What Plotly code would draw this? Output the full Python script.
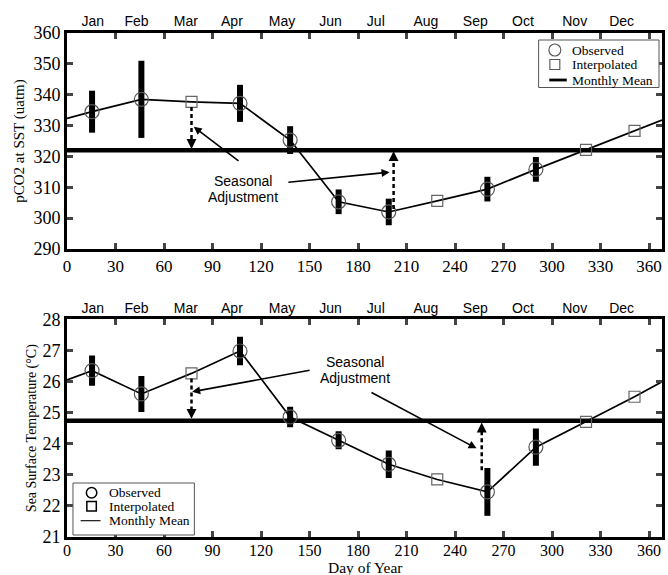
import plotly.graph_objects as go
from plotly.subplots import make_subplots

# ---------------- data ----------------
months = ["Jan", "Feb", "Mar", "Apr", "May", "Jun", "Jul", "Aug", "Sep", "Oct", "Nov", "Dec"]
month_pos = [16, 43, 73.5, 102, 133, 163, 191, 222, 252.5, 282, 314, 343]

obs_days = [15.5, 46, 107, 138, 168, 199, 260, 290]
interp_days = [77, 229, 321, 351]

pco2_obs = [334.5, 338.5, 337.2, 325.3, 305.3, 302.0, 309.4, 315.8]
pco2_err = [6.8, 12.5, 6.0, 4.5, 4.0, 4.3, 4.0, 4.0]
pco2_interp = [337.7, 305.6, 322.1, 328.3]
pco2_start = 332.3
pco2_end = 331.8
pco2_mean = 322.0

sst_obs = [26.35, 25.6, 26.98, 24.86, 24.11, 23.34, 22.45, 23.89]
sst_err = [0.49, 0.58, 0.46, 0.33, 0.29, 0.44, 0.77, 0.6]
sst_interp = [26.26, 22.85, 24.7, 25.51]
sst_start = 26.05
sst_end = 25.99
sst_mean = 24.74

legend_labels = ["Observed", "Interpolated", "Monthly Mean"]

x_end = 368

SERIF = "Liberation Serif, Times New Roman, serif"
SANS = "Liberation Sans, Arial, sans-serif"

# figure geometry (pixels)
W, H = 668, 575
ML, MR, MT, MB = 67, 3, 33, 38
PW, PH = W - ML - MR, H - MT - MB


def PX(x):
    return (x - ML) / PW


def PY(y):
    return (H - MB - y) / PH


def series_line(start, obs, interp, end):
    pts = [(0, start)] + list(zip(obs_days, obs)) + list(zip(interp_days, interp)) + [(x_end, end)]
    pts.sort()
    return [p[0] for p in pts], [p[1] for p in pts]


fig = make_subplots(rows=2, cols=1, vertical_spacing=0.139)

panels = [
    (1, pco2_start, pco2_obs, pco2_err, pco2_interp, pco2_end, pco2_mean),
    (2, sst_start, sst_obs, sst_err, sst_interp, sst_end, sst_mean),
]
for row, s0, obs, err, interp, s1, mean in panels:
    lx, ly = series_line(s0, obs, interp, s1)
    fig.add_trace(go.Scatter(x=lx, y=ly, mode="lines", line=dict(color="black", width=1.7),
                             showlegend=False, hoverinfo="skip"), row=row, col=1)
    fig.add_trace(go.Scatter(x=[0, x_end], y=[mean, mean], mode="lines", name="Monthly Mean",
                             line=dict(color="black", width=4.5), showlegend=False), row=row, col=1)
    fig.add_trace(go.Scatter(x=obs_days, y=obs, mode="markers", name="Observed",
                             marker=dict(symbol="circle-open", size=14, color="#555555",
                                         line=dict(width=1.2)),
                             error_y=dict(type="data", array=err, visible=True, thickness=6,
                                          width=0, color="black"),
                             showlegend=False), row=row, col=1)
    fig.add_trace(go.Scatter(x=interp_days, y=interp, mode="markers", name="Interpolated",
                             marker=dict(symbol="square-open", size=11, color="#666666",
                                         line=dict(width=1.2)),
                             showlegend=False), row=row, col=1)

# ---------------- axes ----------------
axis_common = dict(range=[0, x_end], tickvals=list(range(0, 361, 30)), ticks="inside",
                   ticklen=6, tickwidth=3, showline=True, linewidth=3, linecolor="black",
                   mirror="ticks", showgrid=False, zeroline=False,
                   tickfont=dict(family=SERIF, size=17, color="black"))
fig.update_xaxes(**axis_common)
fig.update_xaxes(tickfont=dict(family=SERIF, size=16, color="black"), ticklabelstandoff=-3,
                 row=2, col=1)

yaxis_common = dict(ticks="inside", ticklen=6, tickwidth=3, showline=True, linewidth=3,
                    linecolor="black", mirror="ticks", showgrid=False, zeroline=False,
                    tickfont=dict(family=SERIF, size=18, color="black"))
fig.update_yaxes(**yaxis_common)
fig.update_yaxes(range=[290, 360], dtick=10, row=1, col=1,
                 title=dict(text="pCO2 at SST (uatm)", font=dict(family=SERIF, size=15, color="black"),
                            standoff=6))
fig.update_yaxes(range=[21, 28], dtick=1, row=2, col=1,
                 title=dict(text="Sea Surface Temperature (°C)",
                            font=dict(family=SERIF, size=14, color="black"), standoff=3))

# month label axes on top
month_axis = dict(side="top", range=[0, x_end], tickvals=month_pos, ticktext=months,
                  ticks="", showgrid=False, zeroline=False, showline=False, ticklabelstandoff=3,
                  tickfont=dict(family=SANS, size=14, color="black"), domain=[0, 1])
fig.update_layout(
    xaxis3=dict(overlaying="x", anchor="y", **month_axis),
    xaxis4=dict(overlaying="x2", anchor="y2", **month_axis),
)
fig.add_trace(go.Scatter(x=[None], y=[None], xaxis="x3", yaxis="y", showlegend=False))
fig.add_trace(go.Scatter(x=[None], y=[None], xaxis="x4", yaxis="y2", showlegend=False))

# ---------------- annotations ----------------
ann = []


def text(xref, yref, x, y, s, size=14, family=SANS, xanchor="center"):
    ann.append(dict(xref=xref, yref=yref, x=x, y=y, text=s, showarrow=False, xanchor=xanchor,
                    yanchor="middle", font=dict(family=family, size=size, color="black")))


def arrow(xref, yref, x, y, ax, ay, width=1.6, size=1.0):
    ann.append(dict(xref=xref, yref=yref, axref=xref, ayref=yref, x=x, y=y, ax=ax, ay=ay,
                    text="", showarrow=True, arrowhead=2, arrowsize=size, arrowwidth=width,
                    arrowcolor="black", standoff=0))


def dashed(xref, yref, x, y0, y1):
    fig.add_shape(type="line", xref=xref, yref=yref, x0=x, y0=y0, x1=x, y1=y1,
                  line=dict(color="black", width=2.5, dash="4px,3px"))


# top panel
text("x", "y", 109, 312.0, "Seasonal")
text("x", "y", 109, 306.9, "Adjustment")
arrow("x", "y", 78.4, 329.6, 107, 318.2)
arrow("x", "y", 199.5, 314.9, 136, 311.6)
dashed("x", "y", 77, 336.0, 323.5)
arrow("x", "y", 77, 322.4, 77, 325.5, width=2.2, size=0.9)
dashed("x", "y", 202, 303.0, 320.5)
arrow("x", "y", 202, 321.7, 202, 318.5, width=2.2, size=0.9)

# bottom panel
text("x2", "y2", 178, 26.63, "Seasonal")
text("x2", "y2", 178, 26.11, "Adjustment")
arrow("x2", "y2", 77.4, 25.67, 151, 26.37)
arrow("x2", "y2", 253.3, 23.85, 187.4, 25.67)
dashed("x2", "y2", 77, 26.1, 24.95)
arrow("x2", "y2", 77, 24.8, 77, 25.05, width=2.2, size=0.9)
dashed("x2", "y2", 256.5, 23.15, 24.55)
arrow("x2", "y2", 256.5, 24.68, 256.5, 24.43, width=2.2, size=0.9)

# x-axis title
ann.append(dict(xref="paper", yref="paper", x=PX(367), y=PY(567.5), text="Day of Year",
                showarrow=False, xanchor="center", yanchor="middle",
                font=dict(family=SERIF, size=15.5, color="black")))


# ---------------- legends (drawn as boxes) ----------------
def legend_box(box, sym_x, rows, text_x, circ_d, sq_d, line_half, line_w, sym_color, sym_w, size):
    x0, y0, x1, y1 = box
    fig.add_shape(type="rect", xref="paper", yref="paper", x0=PX(x0), x1=PX(x1), y0=PY(y1), y1=PY(y0),
                  line=dict(color="#555555", width=1), fillcolor="white", layer="above")
    r = circ_d / 2
    fig.add_shape(type="circle", xref="paper", yref="paper", x0=PX(sym_x - r), x1=PX(sym_x + r),
                  y0=PY(rows[0] + r), y1=PY(rows[0] - r), line=dict(color=sym_color, width=sym_w))
    s = sq_d / 2
    fig.add_shape(type="rect", xref="paper", yref="paper", x0=PX(sym_x - s), x1=PX(sym_x + s),
                  y0=PY(rows[1] + s), y1=PY(rows[1] - s), line=dict(color=sym_color, width=sym_w))
    fig.add_shape(type="line", xref="paper", yref="paper", x0=PX(sym_x - line_half[0]),
                  x1=PX(sym_x + line_half[1]), y0=PY(rows[2]), y1=PY(rows[2]),
                  line=dict(color="black", width=line_w))
    for lab, ry in zip(legend_labels, rows):
        text("paper", "paper", PX(text_x), PY(ry), lab, size=size, family=SERIF, xanchor="left")


legend_box((541, 40, 662, 87.5), 557.3, [50, 64.5, 80], 573, 12, 10, (5.6, 12), 2.8,
           "#555555", 1.1, 13.5)
legend_box((73, 483, 195, 535), 91.7, [492.7, 506.3, 520.7], 107.5, 10.5, 9.5, (11, 9), 1.1,
           "black", 1.5, 13.5)

fig.update_layout(
    annotations=ann,
    width=W, height=H,
    margin=dict(l=ML, r=MR, t=MT, b=MB),
    plot_bgcolor="white", paper_bgcolor="white",
    showlegend=False,
)
fig.update_xaxes(domain=[0, 1])
fig.update_yaxes(domain=[PY(249), 1], row=1, col=1)
fig.update_yaxes(domain=[0, PY(319.3)], row=2, col=1)

fig.write_html("out.html", post_script="document.body.style.margin='0';",
               config={"displayModeBar": False})
